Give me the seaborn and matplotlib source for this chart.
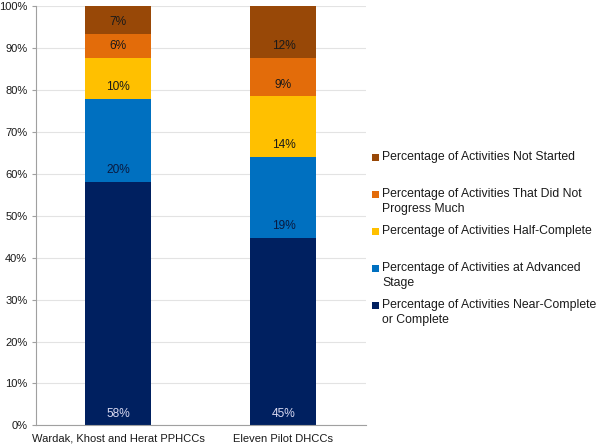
import matplotlib
matplotlib.use("Agg")
import matplotlib.pyplot as plt
import matplotlib.patches as mpatches
import seaborn as sns
import numpy as np
import pandas as pd

categories = ["Wardak, Khost and Herat PPHCCs", "Eleven Pilot DHCCs"]
series_names = [
    "Percentage of Activities Near-Complete\nor Complete",
    "Percentage of Activities at Advanced\nStage",
    "Percentage of Activities Half-Complete",
    "Percentage of Activities That Did Not\nProgress Much",
    "Percentage of Activities Not Started",
]
near_complete = [58.1, 44.7]
advanced = [19.8, 19.4]
half_complete = [9.8, 14.4]
little_progress = [5.7, 9.2]
not_started = [6.6, 12.3]
yticks = [0, 10, 20, 30, 40, 50, 60, 70, 80, 90, 100]

colors = ["#002060", "#0070C0", "#FFC000", "#E36C0A", "#984807"]
label_colors = ["#D8D8F0", "#0A1A40", "#1A1A1A", "#1A1A1A", "#1A1A1A"]

sns.set_theme(style="white")
plt.rcParams['font.family'] = ['Liberation Sans', 'DejaVu Sans']
FS = 8.0
FS_BAR = 8.6
FS_LEG = 8.8

series = [near_complete, advanced, half_complete, little_progress, not_started]
vals = np.array(series)
cum = np.cumsum(vals, axis=0)
bases = cum - vals

W, H = 600, 446
fig = plt.figure(figsize=(6.0, 4.46), dpi=100)
ax = fig.add_axes([0.0595, 0.0464, 0.5505, 0.9395])

# Draw stacked bars: tallest cumulative first so each lower layer overlays
for i in range(len(series) - 1, -1, -1):
    df = pd.DataFrame({"cat": categories, "val": cum[i]})
    sns.barplot(data=df, x="cat", y="val", color=colors[i], width=0.4,
                saturation=1, ax=ax, zorder=2, linewidth=0)

# labels near base of each segment
for i in range(len(series)):
    for j in range(len(categories)):
        ax.annotate(f"{round(vals[i, j]):d}%", xy=(j, bases[i, j]),
                    xytext=(0, 8.3), textcoords="offset points",
                    ha="center", va="center", fontsize=FS_BAR,
                    color=label_colors[i], zorder=3)

ax.set_ylim(0, 100)
ax.set_xlim(-0.5, 1.5)
ax.set_yticks(yticks)
ax.set_yticklabels([f"{t}%" for t in yticks], fontsize=FS, color="#1A1A1A")
ax.yaxis.grid(True, color="#E3E3E3", linewidth=0.8, zorder=0)
ax.set_axisbelow(True)
ax.set_xlabel("")
ax.set_ylabel("")
ax.tick_params(axis="x", which="major", length=0, labelsize=FS,
               labelcolor="#1A1A1A", pad=6)
ax.set_xticks([-0.5, 0.5, 1.5], minor=True)
ax.tick_params(axis="x", which="minor", length=3, color="#A0A0A0", width=0.8)
ax.tick_params(axis="y", length=3, color="#A0A0A0", width=0.8, pad=3, left=True)
for s in ["top", "right"]:
    ax.spines[s].set_visible(False)
for s in ["left", "bottom"]:
    ax.spines[s].set_color("#A0A0A0")
    ax.spines[s].set_linewidth(0.8)

# legend, drawn entry by entry (top to bottom) at the reference's positions
legend_first_line_y = [157, 194, 231, 268, 305]
line_gap = 15
order = list(range(len(series) - 1, -1, -1))
for k, i in enumerate(order):
    y0 = legend_first_line_y[k]
    sq = mpatches.Rectangle((372 / W, 1 - (y0 + 3.5) / H), 6.5 / W, 6.5 / H,
                            transform=fig.transFigure, color=colors[i],
                            linewidth=0)
    fig.patches.append(sq)
    for m, line in enumerate(series_names[i].split("\n")):
        fig.text(382.5 / W, 1 - (y0 + m * line_gap) / H, line, fontsize=FS_LEG,
                 color="#1A1A1A", ha="left", va="center")

fig.savefig("out.png", dpi=100)
